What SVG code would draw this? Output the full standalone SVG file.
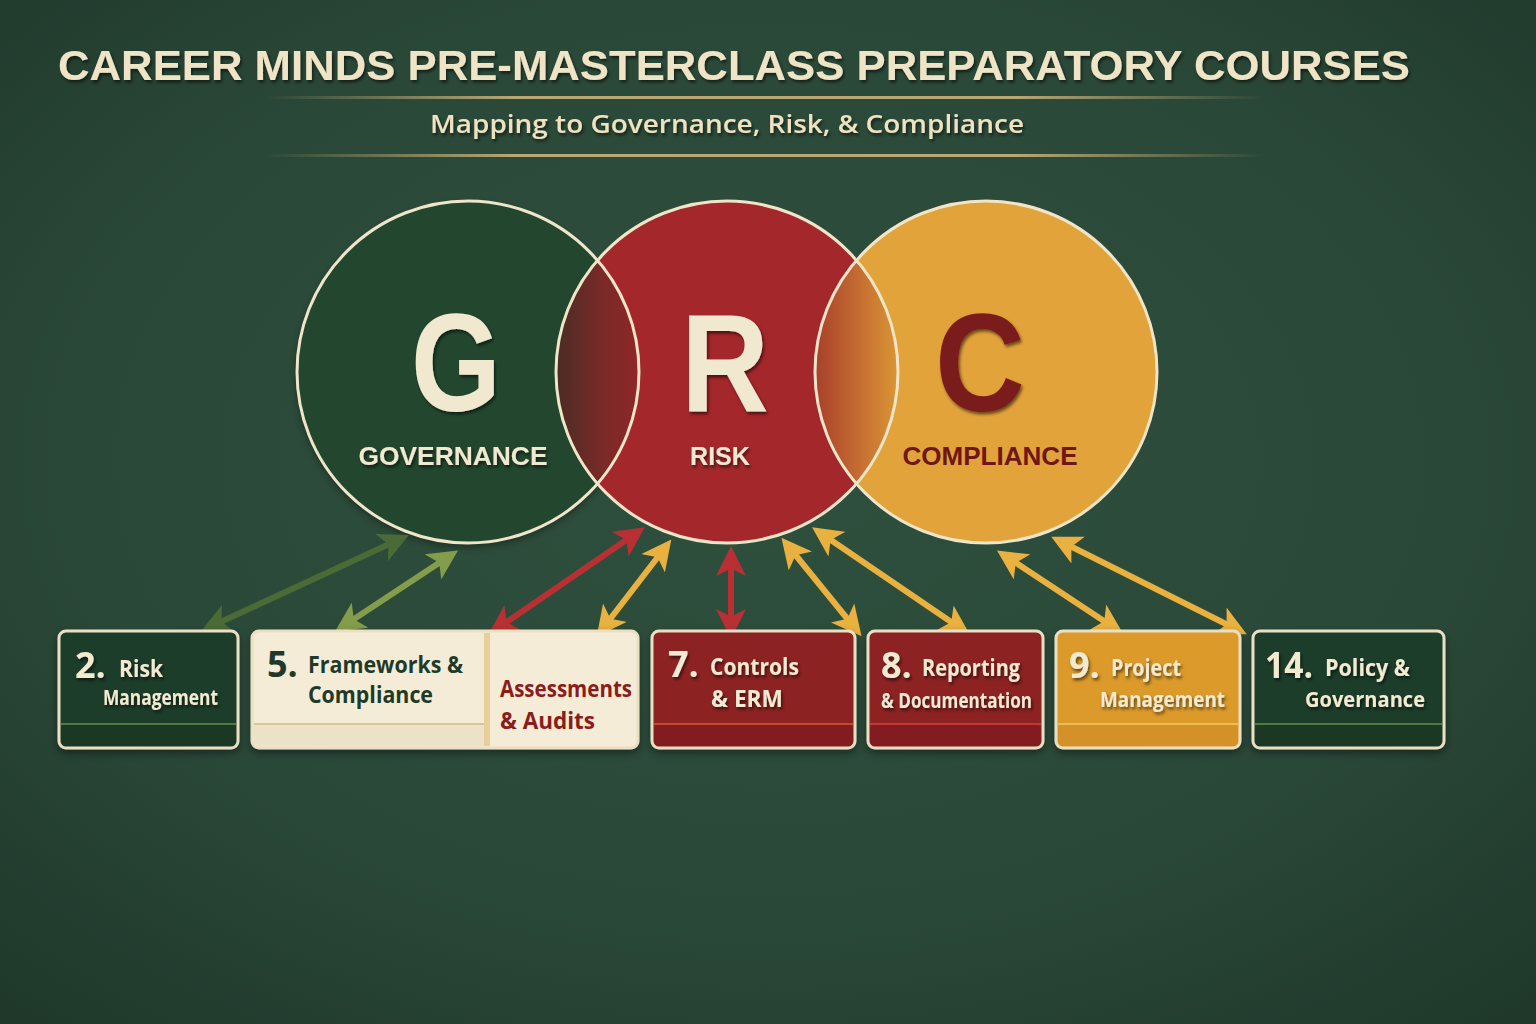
<svg xmlns="http://www.w3.org/2000/svg" width="1536" height="1024" viewBox="0 0 1536 1024">
<defs>
<radialGradient id="bg" cx="0.5" cy="0.45" r="0.75">
<stop offset="0" stop-color="#2f503e"/>
<stop offset="0.6" stop-color="#2a4838"/>
<stop offset="1" stop-color="#1e3729"/>
</radialGradient>
<linearGradient id="rule" x1="0" x2="1" y1="0" y2="0">
<stop offset="0" stop-color="#c9b17a" stop-opacity="0"/>
<stop offset="0.25" stop-color="#c9b17a" stop-opacity="0.9"/>
<stop offset="0.75" stop-color="#c9b17a" stop-opacity="0.9"/>
<stop offset="1" stop-color="#c9b17a" stop-opacity="0"/>
</linearGradient>
<linearGradient id="lens1" gradientUnits="userSpaceOnUse" x1="556" y1="0" x2="639" y2="0">
<stop offset="0" stop-color="#4a2c24"/>
<stop offset="0.55" stop-color="#7a2a27"/>
<stop offset="1" stop-color="#8f2628"/>
</linearGradient>
<linearGradient id="lens2" gradientUnits="userSpaceOnUse" x1="815" y1="0" x2="898" y2="0">
<stop offset="0" stop-color="#a8402a"/>
<stop offset="0.5" stop-color="#c46a32"/>
<stop offset="1" stop-color="#d99634"/>
</linearGradient>
<filter id="sh" x="-10%" y="-10%" width="120%" height="130%">
<feDropShadow dx="1.5" dy="2.5" stdDeviation="1.5" flood-color="#000" flood-opacity="0.55"/>
</filter>
<filter id="bsh" x="-10%" y="-10%" width="120%" height="130%">
<feDropShadow dx="0" dy="4" stdDeviation="4" flood-color="#000" flood-opacity="0.4"/>
</filter>
<marker id="mDg" viewBox="0 0 10 10" refX="6" refY="5" markerWidth="5" markerHeight="5" orient="auto-start-reverse" markerUnits="strokeWidth"><path d="M0,0 L10,5 L0,10 L2.5,5 z" fill="#4a6a36"/></marker>
<marker id="mLg" viewBox="0 0 10 10" refX="6" refY="5" markerWidth="5" markerHeight="5" orient="auto-start-reverse" markerUnits="strokeWidth"><path d="M0,0 L10,5 L0,10 L2.5,5 z" fill="#849d4a"/></marker>
<marker id="mRd" viewBox="0 0 10 10" refX="6" refY="5" markerWidth="5" markerHeight="5" orient="auto-start-reverse" markerUnits="strokeWidth"><path d="M0,0 L10,5 L0,10 L2.5,5 z" fill="#b83033"/></marker>
<marker id="mGd" viewBox="0 0 10 10" refX="6" refY="5" markerWidth="5" markerHeight="5" orient="auto-start-reverse" markerUnits="strokeWidth"><path d="M0,0 L10,5 L0,10 L2.5,5 z" fill="#e9b13f"/></marker>
</defs>
<style>
.title{font-family:"Liberation Sans",Arial,sans-serif;font-weight:700;fill:#efe5c6}
.sub{font-family:"Open Sans","Liberation Sans",sans-serif;font-weight:600;fill:#eee2c0}
.big{font-family:"Liberation Sans",Arial,sans-serif;font-weight:700;text-anchor:middle}
.lbl{font-family:"Liberation Sans",Arial,sans-serif;font-weight:700;font-size:26px;text-anchor:middle}
.ring{fill:none;stroke:#efe5c8;stroke-width:3}
.box{stroke:#e9dfc3;stroke-width:3}
.num{font-family:"Open Sans","Liberation Sans",sans-serif;font-weight:700;font-size:36px}
.t{font-family:"Open Sans","Liberation Sans",sans-serif;font-weight:700;font-size:24px}
.s{font-family:"Open Sans","Liberation Sans",sans-serif;font-weight:700;font-size:21px}
.cream{fill:#f3ead2}
.dgt{fill:#1f3a28}
.rdt{fill:#8a1c1c}
.arr{fill:none;stroke-width:6;stroke-linecap:butt}
</style>
<rect width="1536" height="1024" fill="url(#bg)"/>

<g id="header">
<text class="title" x="58" y="80" font-size="42" textLength="1352" lengthAdjust="spacingAndGlyphs" filter="url(#sh)">CAREER MINDS PRE-MASTERCLASS PREPARATORY COURSES</text>
<rect x="265" y="96" width="1000" height="3" fill="url(#rule)"/>
<text class="sub" x="727" y="133" font-size="26" text-anchor="middle" textLength="594" lengthAdjust="spacingAndGlyphs" filter="url(#sh)">Mapping to Governance, Risk, &amp; Compliance</text>
<rect x="265" y="154" width="1000" height="3" fill="url(#rule)"/>
</g>

<g id="venn">
<g id="governance">
<circle cx="468" cy="372" r="171" fill="#24472f" filter="url(#bsh)"/>
</g>
<g id="risk">
<circle cx="727" cy="372" r="171" fill="#a3272b"/>
</g>
<g id="compliance">
<circle cx="986" cy="372" r="171" fill="#e2a33a"/>
</g>
<path d="M597.5,260.3 A171,171 0 0 0 597.5,483.7 A171,171 0 0 0 597.5,260.3 Z" fill="url(#lens1)"/>
<path d="M856.5,260.3 A171,171 0 0 0 856.5,483.7 A171,171 0 0 0 856.5,260.3 Z" fill="url(#lens2)"/>
<circle class="ring" cx="468" cy="372" r="171"/>
<circle class="ring" cx="727" cy="372" r="171"/>
<circle class="ring" cx="986" cy="372" r="171"/>
<text class="big" x="456" y="411" font-size="140" fill="#f1e8d0" textLength="90" lengthAdjust="spacingAndGlyphs" filter="url(#sh)">G</text>
<text class="big" x="725" y="411" font-size="140" fill="#f1e8d0" textLength="88" lengthAdjust="spacingAndGlyphs" filter="url(#sh)">R</text>
<text class="big" x="980" y="411" font-size="140" fill="#7a1a1c" textLength="90" lengthAdjust="spacingAndGlyphs" filter="url(#sh)">C</text>
<text class="lbl" x="453" y="465" fill="#f1e8d0" textLength="189" lengthAdjust="spacingAndGlyphs" filter="url(#sh)">GOVERNANCE</text>
<text class="lbl" x="720" y="465" fill="#f1e8d0" textLength="60" lengthAdjust="spacingAndGlyphs" filter="url(#sh)">RISK</text>
<text class="lbl" x="990" y="465" fill="#6e1618" textLength="175" lengthAdjust="spacingAndGlyphs">COMPLIANCE</text>
</g>

<g id="connectors">
<line class="arr" x1="212" y1="626" x2="398" y2="540" stroke="#4a6a36" marker-start="url(#mDg)" marker-end="url(#mDg)"/>
<line class="arr" x1="345" y1="625" x2="448" y2="557" stroke="#849d4a" marker-start="url(#mLg)" marker-end="url(#mLg)"/>
<line class="arr" x1="498" y1="628" x2="635" y2="534" stroke="#b83033" marker-start="url(#mRd)" marker-end="url(#mRd)"/>
<line class="arr" x1="604" y1="627" x2="664" y2="549" stroke="#e9b13f" marker-start="url(#mGd)" marker-end="url(#mGd)"/>
<line class="arr" x1="731" y1="627" x2="731" y2="558" stroke="#b83033" marker-start="url(#mRd)" marker-end="url(#mRd)"/>
<line class="arr" x1="854" y1="627" x2="789" y2="547" stroke="#e9b13f" marker-start="url(#mGd)" marker-end="url(#mGd)"/>
<line class="arr" x1="960" y1="628" x2="822" y2="534" stroke="#e9b13f" marker-start="url(#mGd)" marker-end="url(#mGd)"/>
<line class="arr" x1="1113" y1="627" x2="1007" y2="557" stroke="#e9b13f" marker-start="url(#mGd)" marker-end="url(#mGd)"/>
<line class="arr" x1="1236" y1="629" x2="1062" y2="542" stroke="#e9b13f" marker-start="url(#mGd)" marker-end="url(#mGd)"/>
</g>

<g id="box2">
<rect class="box" x="59" y="631" width="179" height="117" rx="7" fill="#1f3e2a" filter="url(#bsh)"/>
<rect x="61" y="725" width="175" height="21" rx="5" fill="#1b3825"/>
<line x1="61" y1="724" x2="236" y2="724" stroke="#4f7a3d" stroke-width="2"/>
<text class="num cream" x="75" y="678" filter="url(#sh)">2.</text>
<text class="t cream" x="119" y="677" textLength="44" lengthAdjust="spacingAndGlyphs" filter="url(#sh)">Risk</text>
<text class="s cream" x="103" y="705" textLength="115" lengthAdjust="spacingAndGlyphs" filter="url(#sh)">Management</text>
</g>

<g id="box5">
<rect class="box" x="252" y="631" width="386" height="117" rx="7" fill="#f4ecd6" filter="url(#bsh)"/>
<rect x="254" y="725" width="231" height="21" fill="#ece2c8"/>
<line x1="254" y1="724" x2="485" y2="724" stroke="#d6c69c" stroke-width="2"/>
<rect x="484" y="633" width="6" height="113" fill="#e6cf98"/>
<text class="num dgt" x="267" y="677">5.</text>
<text class="t dgt" x="308" y="673" textLength="155" lengthAdjust="spacingAndGlyphs">Frameworks &amp;</text>
<text class="t dgt" x="308" y="703" textLength="125" lengthAdjust="spacingAndGlyphs">Compliance</text>
<text class="t rdt" x="500" y="697" textLength="132" lengthAdjust="spacingAndGlyphs">Assessments</text>
<text class="t rdt" x="500" y="729" textLength="95" lengthAdjust="spacingAndGlyphs">&amp; Audits</text>
</g>

<g id="box7">
<rect class="box" x="652" y="631" width="203" height="117" rx="7" fill="#8d2023" filter="url(#bsh)"/>
<rect x="654" y="725" width="199" height="21" rx="5" fill="#821c20"/>
<line x1="654" y1="724" x2="853" y2="724" stroke="#c4482e" stroke-width="2"/>
<text class="num cream" x="668" y="677" filter="url(#sh)">7.</text>
<text class="t cream" x="710" y="675" textLength="89" lengthAdjust="spacingAndGlyphs" filter="url(#sh)">Controls</text>
<text class="t cream" x="711" y="707" textLength="72" lengthAdjust="spacingAndGlyphs" filter="url(#sh)">&amp; ERM</text>
</g>

<g id="box8">
<rect class="box" x="868" y="631" width="175" height="117" rx="7" fill="#8d2023" filter="url(#bsh)"/>
<rect x="870" y="725" width="171" height="21" rx="5" fill="#821c20"/>
<line x1="870" y1="724" x2="1041" y2="724" stroke="#c03a35" stroke-width="2"/>
<text class="num cream" x="881" y="678" filter="url(#sh)">8.</text>
<text class="t cream" x="922" y="676" textLength="98" lengthAdjust="spacingAndGlyphs" filter="url(#sh)">Reporting</text>
<text class="s cream" x="881" y="708" textLength="151" lengthAdjust="spacingAndGlyphs" filter="url(#sh)">&amp; Documentation</text>
</g>

<g id="box9">
<rect class="box" x="1056" y="631" width="184" height="117" rx="7" fill="#dc9a2c" filter="url(#bsh)"/>
<rect x="1058" y="725" width="180" height="21" rx="5" fill="#d39128"/>
<line x1="1058" y1="724" x2="1238" y2="724" stroke="#ebbb55" stroke-width="2"/>
<text class="num cream" x="1069" y="678" filter="url(#sh)">9.</text>
<text class="t cream" x="1111" y="676" textLength="70" lengthAdjust="spacingAndGlyphs" filter="url(#sh)">Project</text>
<text class="s cream" x="1100" y="707" textLength="125" lengthAdjust="spacingAndGlyphs" filter="url(#sh)">Management</text>
</g>

<g id="box14">
<rect class="box" x="1253" y="631" width="191" height="117" rx="7" fill="#1f3e2a" filter="url(#bsh)"/>
<rect x="1255" y="725" width="187" height="21" rx="5" fill="#1b3825"/>
<line x1="1255" y1="724" x2="1442" y2="724" stroke="#4f7a3d" stroke-width="2"/>
<text class="num cream" x="1265" y="678" textLength="48" lengthAdjust="spacingAndGlyphs" filter="url(#sh)">14.</text>
<text class="t cream" x="1325" y="676" textLength="85" lengthAdjust="spacingAndGlyphs" filter="url(#sh)">Policy &amp;</text>
<text class="s cream" x="1305" y="707" textLength="120" lengthAdjust="spacingAndGlyphs" filter="url(#sh)">Governance</text>
</g>
</svg>
